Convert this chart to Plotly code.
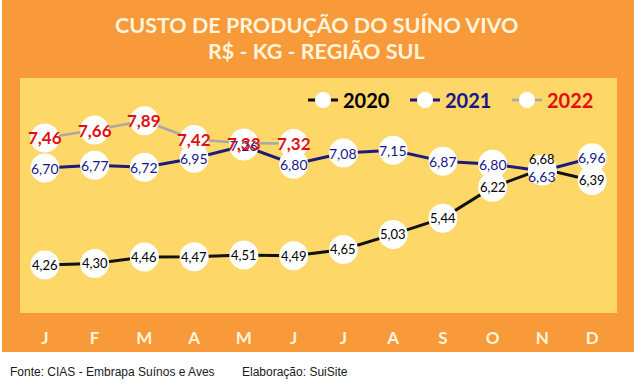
import plotly.graph_objects as go

# ---------------- data ----------------
months = ["Jan", "Fev", "Mar", "Abr", "Mai", "Jun", "Jul", "Ago", "Set", "Out", "Nov", "Dez"]
month_ticks = ["J", "F", "M", "A", "M", "J", "J", "A", "S", "O", "N", "D"]
cost_2020 = [4.26, 4.30, 4.46, 4.47, 4.51, 4.49, 4.65, 5.03, 5.44, 6.22, 6.68, 6.39]
cost_2021 = [6.70, 6.77, 6.72, 6.95, 7.26, 6.80, 7.08, 7.15, 6.87, 6.80, 6.63, 6.96]
cost_2022 = [7.46, 7.66, 7.89, 7.42, 7.33, 7.32]
series_names = ["2020", "2021", "2022"]

title_lines = ["CUSTO DE PRODUÇÃO DO SUÍNO VIVO", "R$ - KG - REGIÃO SUL"]
footer_source = "Fonte: CIAS - Embrapa Suínos e Aves"
footer_author = "Elaboração: SuiSite"

# ---------------- layout geometry / styles ----------------
W, H = 634, 390
PL, PR, PT, PB = 20, 617, 78, 313  # plot area in px


def px_x(x):
    return (x - PL) / (PR - PL)


def px_y(y):
    return (PB - y) / (PB - PT)


ORANGE = "#F8993A"
YELLOW = "#FDD768"
CREAM = "#FFF4DC"

styles = {
    "2020": dict(line="#111111", width=3, text="#000000", size=13, weight="normal", lcolor="#000000"),
    "2021": dict(line="#1B1B7E", width=3, text="#16168C", size=14, weight="normal", lcolor="#16168C"),
    "2022": dict(line="#A8A8A8", width=2.5, text="#E01010", size=17, weight="bold", lcolor="#E01010"),
}
# small label nudges (px, up positive) where labels collide
label_shift = {("2020", 10): 10, ("2021", 10): -6}

fig = go.Figure()
x_idx = list(range(len(months)))
all_series = {"2020": cost_2020, "2021": cost_2021, "2022": cost_2022}

for name in series_names:
    vals = all_series[name]
    st = styles[name]
    fig.add_trace(go.Scatter(
        x=x_idx[:len(vals)], y=vals,
        mode="lines+markers",
        name=f"<span style='color:{st['lcolor']}'>{name}</span>",
        line=dict(color=st["line"], width=st["width"]),
        marker=dict(color="white", size=29, line=dict(width=0)),
        hoverinfo="skip",
    ))

annotations = []
for name in series_names:
    vals = all_series[name]
    st = styles[name]
    for i, v in enumerate(vals):
        annotations.append(dict(
            x=i, y=v, xref="x", yref="y",
            text=f"{v:.2f}".replace(".", ","),
            showarrow=False, xanchor="center", yanchor="middle",
            yshift=label_shift.get((name, i), 0),
            font=dict(family="Lato", size=st["size"], color=st["text"], weight=st["weight"]),
        ))

# titles
for t, ypx in zip(title_lines, [25, 51]):
    annotations.append(dict(
        x=px_x(316), y=px_y(ypx), xref="paper", yref="paper",
        text=t, showarrow=False, xanchor="center", yanchor="middle",
        font=dict(family="Lato", size=21.5, color=CREAM, weight="bold"),
    ))

# footer
for t, xpx in [(footer_source, 8), (footer_author, 240)]:
    annotations.append(dict(
        x=px_x(xpx), y=px_y(372), xref="paper", yref="paper",
        text=t, showarrow=False, xanchor="left", yanchor="middle",
        font=dict(family="Liberation Sans", size=12, color="#1a1a1a"),
    ))

shapes = [
    dict(type="rect", xref="paper", yref="paper", layer="below",
         x0=px_x(2), x1=px_x(W + 2), y0=px_y(352), y1=px_y(-2),
         fillcolor=ORANGE, line=dict(width=0)),
    dict(type="rect", xref="paper", yref="paper", layer="below",
         x0=0, x1=1, y0=0, y1=1, fillcolor=YELLOW, line=dict(width=0)),
]

fig.update_layout(
    width=W, height=H,
    margin=dict(l=PL, r=W - PR, t=PT, b=H - PB, pad=0),
    paper_bgcolor="white", plot_bgcolor=YELLOW,
    showlegend=True,
    legend=dict(orientation="h", x=px_x(303), xanchor="left", y=px_y(100), yanchor="middle",
                bgcolor="rgba(0,0,0,0)", borderwidth=0, entrywidth=57, entrywidthmode="pixels",
                font=dict(family="Lato", size=20, color="#000000", weight="bold")),
    xaxis=dict(range=[-0.5, 11.5], tickvals=x_idx, ticktext=month_ticks,
               showgrid=False, zeroline=False, showline=False, ticks="",
               ticklabelstandoff=13,
               tickfont=dict(family="Lato", size=17, color=CREAM, weight="bold"), fixedrange=True),
    yaxis=dict(range=[3.05, 8.97], visible=False, showgrid=False, fixedrange=True),
    annotations=annotations,
    shapes=shapes,
)

fig.write_html("out.html", config={"displayModeBar": False},
               post_script="document.body.style.margin='0';")
